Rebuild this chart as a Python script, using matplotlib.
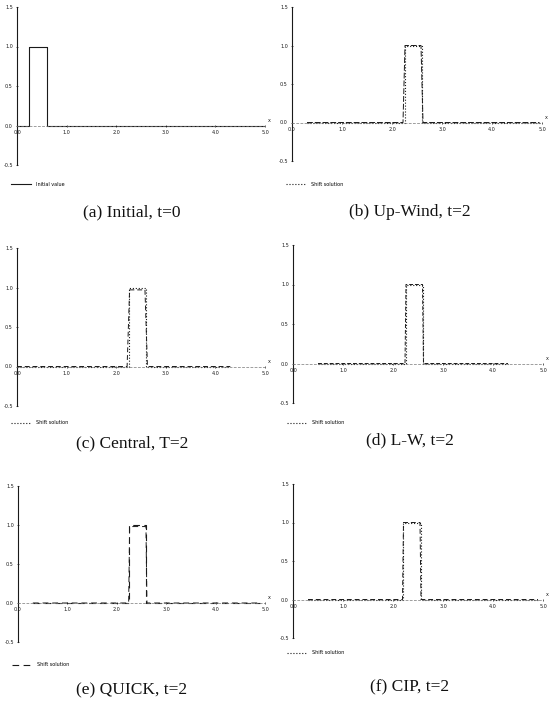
import matplotlib
matplotlib.use("Agg")
import matplotlib.pyplot as plt

W, H = 557, 701

captions = ["(a) Initial, t=0", "(b) Up-Wind, t=2", "(c) Central, T=2",
            "(d) L-W, t=2", "(e) QUICK, t=2", "(f) CIP, t=2"]
legend_labels = ["Initial value", "Shift solution", "Shift solution",
                 "Shift solution", "Shift solution", "Shift solution"]

x_ticks = [0.0, 1.0, 2.0, 3.0, 4.0, 5.0]
x_tick_labels = ["0.0", "1.0", "2.0", "3.0", "4.0", "5.0"]
y_ticks = [-0.5, 0.0, 0.5, 1.0, 1.5]
y_tick_labels = ["-0.5", "0.0", "0.5", "1.0", "1.5"]

# exact (shifted) square pulse for each panel
exact_x = [
    [0.0, 0.25, 0.25, 0.6, 0.6, 5.0],
    [0.3, 2.25, 2.25, 2.6, 2.6, 4.95],
    [0.0, 2.25, 2.25, 2.6, 2.6, 4.3],
    [0.5, 2.25, 2.25, 2.6, 2.6, 4.3],
    [0.3, 2.25, 2.25, 2.6, 2.6, 4.9],
    [0.3, 2.2, 2.2, 2.55, 2.55, 4.9],
]
exact_y = [
    [0, 0, 1, 1, 0, 0],
    [0, 0, 1, 1, 0, 0],
    [0, 0, 1, 1, 0, 0],
    [0, 0, 1, 1, 0, 0],
    [0, 0, 1, 1, 0, 0],
    [0, 0, 1, 1, 0, 0],
]

# numerical solutions
num_x = [
    [0.0, 0.25, 0.25, 0.6, 0.6, 5.0],
    [0.3, 2.22, 2.26, 2.58, 2.62, 4.95],
    [0.0, 2.22, 2.27, 2.58, 2.63, 4.3],
    [0.5, 2.24, 2.26, 2.59, 2.61, 4.3],
    [0.3, 2.24, 2.26, 2.59, 2.61, 4.9],
    [0.3, 2.19, 2.21, 2.54, 2.56, 4.9],
]
num_y = [
    [0, 0, 1, 1, 0, 0],
    [0, 0, 1, 1, 0, 0],
    [0, 0, 0.97, 0.97, 0, 0],
    [0, 0, 1, 1, 0, 0],
    [0, 0, 0.98, 0.98, 0, 0],
    [0, 0, 1, 1, 0, 0],
]
num_styles = [(0, (6, 3)), (0, (6, 2)), (0, (5, 3)), (0, (4, 2)), (0, (6, 4)), (0, (5, 3))]
exact_styles = ["-", ":", ":", ":", (0, (6, 4)), ":"]

# pixel layout: (x0 px, x5 px, y at 1.5 px, y at -0.5 px, legend y px, caption y px, caption centre x px)
layout = [
    (17, 265, 7, 165, 184, 212, 132),
    (292, 542, 7, 161, 184, 212, 410),
    (17, 265, 248, 406, 423, 443, 132),
    (293, 543, 245, 403, 423, 440, 410),
    (18, 265, 486, 642, 665, 690, 132),
    (293, 543, 484, 638, 653, 687, 410),
]

fig = plt.figure(figsize=(W / 100, H / 100), dpi=100)
ink = "#1a1a1a"

for i in range(6):
    x0, x5, yt, yb, ly, cy, cx = layout[i]
    ax = fig.add_axes([x0 / W, 1 - yb / H, (x5 - x0) / W, (yb - yt) / H])
    ax.set_xlim(0, 5)
    ax.set_ylim(-0.5, 1.5)
    ax.patch.set_alpha(0)
    for s in ["top", "right"]:
        ax.spines[s].set_visible(False)
    ax.spines["left"].set_position(("data", 0))
    ax.spines["bottom"].set_position(("data", 0))
    ax.spines["left"].set_linewidth(0.8)
    ax.spines["left"].set_color(ink)
    ax.spines["bottom"].set_linewidth(0.5)
    ax.spines["bottom"].set_color("#777777")
    ax.spines["bottom"].set_linestyle((0, (3, 3)))
    ax.set_xticks(x_ticks)
    ax.set_xticklabels(x_tick_labels)
    ax.set_yticks(y_ticks)
    ax.set_yticklabels(y_tick_labels)
    ax.tick_params(axis="both", labelsize=3.5, length=2, width=0.5,
                   direction="inout", colors=ink, pad=2)
    ax.plot(num_x[i], num_y[i], color=ink, lw=0.7, ls=num_styles[i])
    ax.plot(exact_x[i], exact_y[i], color=ink, lw=0.8, ls=exact_styles[i],
            label=legend_labels[i])
    ax.text(5.05, 0.05, "x", fontsize=3.5, color=ink, clip_on=False)
    ax.legend(loc="center left", bbox_to_anchor=((x0 - 8) / W, 1 - ly / H),
              bbox_transform=fig.transFigure, frameon=False, fontsize=3.5,
              handlelength=4, borderpad=0, handletextpad=1)
    fig.text(cx / W, 1 - cy / H, captions[i], ha="center", va="center",
             fontsize=12.5, family="Liberation Serif", color="#111111")

fig.savefig("out.png", dpi=100)
